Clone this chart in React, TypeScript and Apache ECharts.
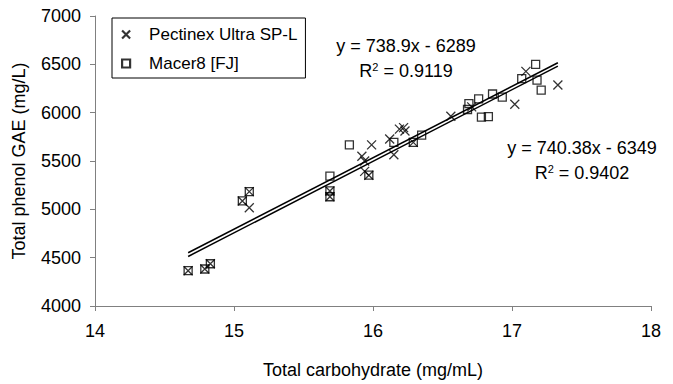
import React, { useEffect, useRef } from "react";
import * as echarts from "echarts";

const pectinexX = [14.67, 14.79, 14.83, 15.06, 15.11, 15.11, 15.69, 15.69, 15.92, 15.94, 15.94, 15.97, 15.99, 16.12, 16.15, 16.19, 16.22, 16.23, 16.29, 16.56, 16.71, 17.02, 17.1, 17.33];
const pectinexY = [4365, 4383, 4437, 5087, 5183, 5017, 5130, 5190, 5550, 5500, 5393, 5353, 5667, 5727, 5565, 5830, 5845, 5810, 5693, 5963, 6060, 6087, 6427, 6287];

const macerX = [14.67, 14.79, 14.83, 15.06, 15.11, 15.69, 15.69, 15.69, 15.83, 15.97, 16.15, 16.29, 16.35, 16.68, 16.69, 16.76, 16.78, 16.83, 16.86, 16.93, 17.07, 17.17, 17.18, 17.21];
const macerY = [4365, 4383, 4437, 5087, 5183, 5343, 5130, 5190, 5667, 5353, 5693, 5693, 5767, 6033, 6093, 6143, 5953, 5960, 6193, 6160, 6353, 6500, 6337, 6233];

const seriesNames = ["Pectinex Ultra SP-L", "Macer8 [FJ]"];
const trendSlopes = [738.9, 740.38];
const trendIntercepts = [-6289, -6349];
const trendRange = [14.67, 17.33];
const equationTexts = ["y = 738.9x - 6289", "y = 740.38x - 6349"];
const r2Texts = ["0.9119", "0.9402"];

const FONT = "'Liberation Sans', Arial, sans-serif";
const X_PATH = "path://M0,0L10,10M10,0L0,10";

export default function App() {
  const ref = useRef<HTMLDivElement>(null);
  useEffect(() => {
    if (!ref.current) return;
    const chart = echarts.init(ref.current, null, { renderer: "svg" });
    const pData = pectinexX.map((x, i) => [x, pectinexY[i]]);
    const mData = macerX.map((x, i) => [x, macerY[i]]);
    const trend = trendSlopes.map((s, i) =>
      trendRange.map((x) => [x, s * x + trendIntercepts[i]])
    );
    const eqPos = [
      { x: 406, y1: 46, y2: 71 },
      { x: 582, y1: 148, y2: 173 },
    ];
    const graphics: any[] = [];
    eqPos.forEach((p, i) => {
      graphics.push({
        type: "text",
        x: p.x,
        y: p.y1,
        style: {
          text: equationTexts[i],
          fontSize: 18,
          fontFamily: FONT,
          fill: "#000",
          align: "center",
          verticalAlign: "middle",
        },
      });
      graphics.push({
        type: "text",
        x: p.x,
        y: p.y2,
        style: {
          text: "{a|R}{b|2}{a| = " + r2Texts[i] + "}",
          fontSize: 18,
          fontFamily: FONT,
          fill: "#000",
          align: "center",
          verticalAlign: "middle",
          rich: {
            a: { fontSize: 18, fontFamily: FONT, fill: "#000" },
            b: { fontSize: 11, fontFamily: FONT, fill: "#000", verticalAlign: "top", padding: [0, 0, 8, 0] },
          },
        },
      });
    });
    chart.setOption({
      animation: false,
      backgroundColor: "#fff",
      grid: { left: 95, right: 22, top: 16, bottom: 68 },
      legend: {
        data: [
          { name: seriesNames[0], icon: X_PATH },
          { name: seriesNames[1], icon: "rect" },
        ],
        orient: "vertical",
        left: 112,
        top: 18,
        itemWidth: 8,
        itemHeight: 8,
        itemGap: 12,
        padding: [8, 8, 6, 9],
        borderColor: "#000",
        borderWidth: 1,
        itemStyle: { color: "transparent", borderColor: "#000", borderWidth: 2.2 },
        textStyle: { fontSize: 17, fontFamily: FONT, color: "#000", padding: [0, 0, 0, 14] },
        selectedMode: false,
      },
      xAxis: {
        type: "value",
        min: 14,
        max: 18,
        interval: 1,
        name: "Total carbohydrate (mg/mL)",
        nameLocation: "middle",
        nameGap: 55,
        nameTextStyle: { fontSize: 18, fontFamily: FONT, color: "#000" },
        axisLine: { lineStyle: { color: "#808080", width: 1 } },
        axisTick: { length: 5, lineStyle: { color: "#808080" } },
        axisLabel: { fontSize: 18, fontFamily: FONT, color: "#000", margin: 16 },
        splitLine: { show: false },
      },
      yAxis: {
        type: "value",
        min: 4000,
        max: 7000,
        interval: 500,
        name: "Total phenol GAE (mg/L)",
        nameLocation: "middle",
        nameGap: 67,
        nameTextStyle: { fontSize: 18, fontFamily: FONT, color: "#000" },
        axisLine: { show: true, lineStyle: { color: "#808080", width: 1 } },
        axisTick: { show: true, length: 5, lineStyle: { color: "#808080" } },
        axisLabel: {
          fontSize: 18,
          fontFamily: FONT,
          color: "#000",
          margin: 14,
          formatter: (v: number) => String(v),
        },
        splitLine: { show: false },
      },
      series: [
        {
          name: seriesNames[0],
          type: "scatter",
          data: pData,
          symbol: X_PATH,
          symbolSize: 9,
          itemStyle: { color: "transparent", borderColor: "#000", borderWidth: 1.3 },
          z: 3,
        },
        {
          name: seriesNames[1],
          type: "scatter",
          data: mData,
          symbol: "rect",
          symbolSize: 8,
          itemStyle: { color: "transparent", borderColor: "#000", borderWidth: 1.3 },
          z: 2,
        },
        ...trend.map((d, i) => ({
          name: "trend" + i,
          type: "line",
          data: d,
          symbol: "none",
          lineStyle: { color: "#000", width: 1.5 },
          silent: true,
          z: 1,
        })),
      ],
      graphic: graphics,
    });
    return () => chart.dispose();
  }, []);
  return (
    <div
      ref={ref}
      style={{ position: "fixed", left: 0, top: 0, width: 673, height: 384 }}
    />
  );
}
